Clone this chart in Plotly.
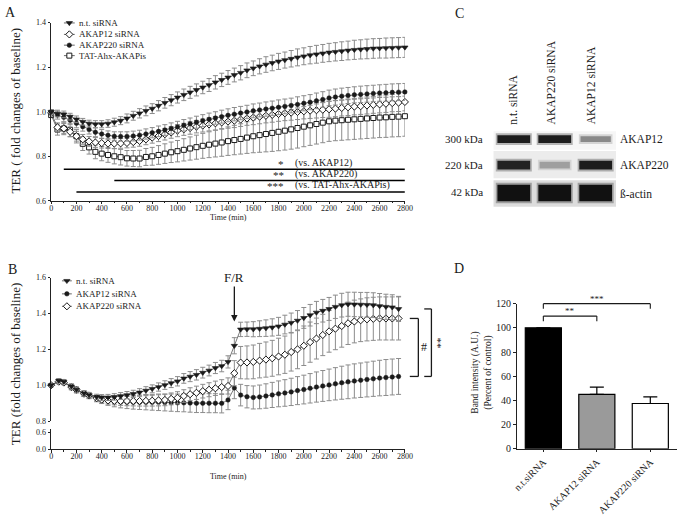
import plotly.graph_objects as go

W, H = 688, 527
def PX(x): return x / W
def PY(y): return 1 - y / H

SERIF = "Liberation Serif, Times New Roman, serif"
INK = "#1a1a1a"

# ---------------- DATA ----------------
# Panel A
time_a = list(range(0, 2801, 50))
nt_a = [1.000, 0.992, 0.988, 0.978, 0.966, 0.955, 0.947, 0.944, 0.944, 0.947,
        0.953, 0.960, 0.970, 0.982, 0.993, 1.004, 1.014, 1.027, 1.040, 1.052,
        1.064, 1.076, 1.087, 1.098, 1.109, 1.120, 1.132, 1.143, 1.154, 1.165,
        1.175, 1.186, 1.195, 1.204, 1.212, 1.219, 1.226, 1.232, 1.238, 1.244,
        1.249, 1.254, 1.258, 1.262, 1.266, 1.269, 1.272, 1.275, 1.278, 1.280,
        1.282, 1.284, 1.285, 1.286, 1.287, 1.288, 1.289]
nt_a_err = [0.010, 0.015, 0.015, 0.015, 0.015, 0.015, 0.015, 0.016, 0.016, 0.017,
            0.018, 0.018, 0.020, 0.020, 0.021, 0.022, 0.022, 0.023, 0.024, 0.025,
            0.025, 0.026, 0.027, 0.027, 0.028, 0.029, 0.030, 0.030, 0.031, 0.031,
            0.032, 0.033, 0.033, 0.034, 0.035, 0.035, 0.036, 0.036, 0.037, 0.038,
            0.038, 0.039, 0.040, 0.040, 0.041, 0.041, 0.042, 0.042, 0.043, 0.043,
            0.044, 0.044, 0.044, 0.045, 0.045, 0.045, 0.045]
akap12_a = [0.995, 0.930, 0.925, 0.910, 0.890, 0.876, 0.867, 0.862, 0.859, 0.857,
            0.857, 0.858, 0.860, 0.864, 0.869, 0.876, 0.884, 0.891, 0.899, 0.907,
            0.915, 0.921, 0.927, 0.933, 0.938, 0.943, 0.948, 0.952, 0.956, 0.960,
            0.965, 0.970, 0.974, 0.978, 0.982, 0.986, 0.990, 0.993, 0.996, 0.999,
            1.002, 1.005, 1.007, 1.009, 1.011, 1.014, 1.017, 1.020, 1.023, 1.025,
            1.028, 1.031, 1.033, 1.036, 1.039, 1.041, 1.044]
akap12_a_err = [0.010, 0.020, 0.022, 0.022, 0.022, 0.022, 0.022, 0.022, 0.022, 0.022,
                0.022, 0.022, 0.022, 0.023, 0.024, 0.024, 0.025, 0.025, 0.026, 0.026,
                0.027, 0.027, 0.028, 0.028, 0.029, 0.029, 0.030, 0.030, 0.030, 0.031,
                0.031, 0.031, 0.032, 0.032, 0.032, 0.033, 0.033, 0.033, 0.034, 0.034,
                0.034, 0.035, 0.035, 0.035, 0.036, 0.036, 0.036, 0.037, 0.037, 0.037,
                0.038, 0.038, 0.038, 0.039, 0.039, 0.040, 0.040]
akap220_a = [1.000, 0.985, 0.975, 0.962, 0.948, 0.933, 0.920, 0.908, 0.900, 0.894,
             0.890, 0.889, 0.889, 0.891, 0.895, 0.900, 0.906, 0.912, 0.918, 0.925,
             0.932, 0.939, 0.946, 0.953, 0.960, 0.966, 0.972, 0.978, 0.984, 0.989,
             0.994, 0.999, 1.004, 1.008, 1.012, 1.016, 1.020, 1.024, 1.028, 1.033,
             1.038, 1.043, 1.049, 1.055, 1.062, 1.066, 1.070, 1.073, 1.076, 1.078,
             1.080, 1.082, 1.084, 1.085, 1.087, 1.088, 1.089]
akap220_a_err = [0.010, 0.018, 0.020, 0.020, 0.020, 0.020, 0.020, 0.020, 0.020, 0.020,
                 0.020, 0.021, 0.021, 0.022, 0.022, 0.023, 0.023, 0.024, 0.024, 0.025,
                 0.025, 0.026, 0.026, 0.027, 0.027, 0.028, 0.028, 0.029, 0.029, 0.030,
                 0.030, 0.030, 0.031, 0.031, 0.032, 0.032, 0.033, 0.033, 0.033, 0.034,
                 0.034, 0.034, 0.035, 0.035, 0.035, 0.036, 0.036, 0.036, 0.036, 0.037,
                 0.037, 0.037, 0.037, 0.038, 0.038, 0.038, 0.038]
tat_a = [0.985, 0.920, 0.925, 0.918, 0.890, 0.856, 0.840, 0.820, 0.812, 0.806,
         0.800, 0.796, 0.791, 0.790, 0.790, 0.797, 0.800, 0.806, 0.812, 0.818,
         0.823, 0.829, 0.835, 0.841, 0.847, 0.852, 0.857, 0.862, 0.868, 0.873,
         0.878, 0.884, 0.890, 0.895, 0.900, 0.905, 0.910, 0.915, 0.921, 0.927,
         0.933, 0.939, 0.945, 0.951, 0.957, 0.960, 0.962, 0.964, 0.966, 0.968,
         0.970, 0.972, 0.974, 0.975, 0.977, 0.978, 0.980]
tat_a_err = [0.010, 0.025, 0.028, 0.030, 0.030, 0.030, 0.030, 0.031, 0.032, 0.033,
             0.034, 0.035, 0.035, 0.036, 0.037, 0.038, 0.040, 0.042, 0.044, 0.046,
             0.048, 0.050, 0.052, 0.054, 0.056, 0.058, 0.060, 0.062, 0.064, 0.066,
             0.068, 0.071, 0.074, 0.077, 0.080, 0.083, 0.085, 0.087, 0.089, 0.090,
             0.090, 0.090, 0.090, 0.090, 0.090, 0.090, 0.090, 0.090, 0.090, 0.090,
             0.090, 0.090, 0.090, 0.090, 0.090, 0.090, 0.090]
legend_a = ["n.t. siRNA", "AKAP12 siRNA", "AKAP220 siRNA", "TAT-Ahx-AKAPis"]
sig_starts = [100, 500, 200]
sig_levels = [0.742, 0.691, 0.640]
sig_stars = ["*", "**", "***"]
sig_labels = ["(vs. AKAP12)", "(vs. AKAP220)", "(vs. TAT-Ahx-AKAPis)"]

# Panel B
time_b = [0, 60, 100, 160, 200, 260, 300, 360, 400] + list(range(450, 2751, 50))
nt_b = [1.000, 1.025, 1.020, 0.993, 0.975, 0.955, 0.945, 0.935, 0.932, 0.932,
        0.935, 0.940, 0.945, 0.952, 0.960, 0.970, 0.980, 0.990, 1.001, 1.012,
        1.022, 1.038, 1.048, 1.058, 1.070, 1.082, 1.096, 1.107, 1.130, 1.220,
        1.311, 1.312, 1.312, 1.315, 1.318, 1.322, 1.328, 1.338, 1.348, 1.360,
        1.375, 1.390, 1.405, 1.415, 1.425, 1.437, 1.446, 1.451, 1.450, 1.449,
        1.448, 1.446, 1.441, 1.437, 1.434, 1.425]
nt_b_err = [0.008, 0.012, 0.012, 0.015, 0.015, 0.015, 0.015, 0.015, 0.016, 0.017,
            0.018, 0.019, 0.020, 0.020, 0.021, 0.022, 0.022, 0.023, 0.024, 0.025,
            0.026, 0.027, 0.028, 0.029, 0.030, 0.030, 0.031, 0.032, 0.034, 0.045,
            0.040, 0.040, 0.042, 0.044, 0.046, 0.048, 0.050, 0.052, 0.054, 0.056,
            0.058, 0.060, 0.062, 0.063, 0.064, 0.065, 0.066, 0.067, 0.068, 0.068,
            0.069, 0.069, 0.070, 0.070, 0.070, 0.070]
akap12_b = [1.000, 1.022, 1.016, 0.990, 0.972, 0.952, 0.940, 0.925, 0.918, 0.912,
            0.908, 0.906, 0.905, 0.905, 0.905, 0.905, 0.905, 0.905, 0.904, 0.903,
            0.902, 0.902, 0.901, 0.900, 0.900, 0.900, 0.900, 0.899, 0.918, 0.985,
            0.945, 0.936, 0.932, 0.935, 0.940, 0.946, 0.952, 0.957, 0.963, 0.970,
            0.976, 0.983, 0.990, 0.996, 1.002, 1.008, 1.014, 1.019, 1.024, 1.028,
            1.032, 1.036, 1.040, 1.043, 1.046, 1.049]
akap12_b_err = [0.008, 0.012, 0.012, 0.015, 0.015, 0.015, 0.015, 0.017, 0.020, 0.024,
                0.028, 0.032, 0.035, 0.038, 0.040, 0.042, 0.044, 0.046, 0.047, 0.048,
                0.049, 0.050, 0.051, 0.052, 0.052, 0.053, 0.053, 0.053, 0.054, 0.060,
                0.060, 0.062, 0.064, 0.066, 0.068, 0.070, 0.072, 0.074, 0.076, 0.078,
                0.080, 0.082, 0.084, 0.086, 0.088, 0.090, 0.092, 0.094, 0.095, 0.096,
                0.097, 0.098, 0.099, 0.100, 0.100, 0.100]
akap220_b = [1.000, 1.020, 1.015, 0.990, 0.975, 0.953, 0.943, 0.928, 0.920, 0.915,
             0.913, 0.912, 0.912, 0.912, 0.912, 0.913, 0.914, 0.916, 0.918, 0.924,
             0.930, 0.940, 0.950, 0.958, 0.967, 0.975, 0.983, 0.990, 0.996, 1.067,
             1.126, 1.127, 1.130, 1.137, 1.143, 1.150, 1.160, 1.170, 1.185, 1.200,
             1.220, 1.240, 1.260, 1.280, 1.300, 1.315, 1.330, 1.345, 1.355, 1.362,
             1.367, 1.370, 1.372, 1.372, 1.372, 1.372]
akap220_b_err = [0.008, 0.012, 0.012, 0.015, 0.015, 0.015, 0.015, 0.016, 0.018, 0.020,
                 0.022, 0.024, 0.026, 0.027, 0.028, 0.029, 0.030, 0.031, 0.032, 0.033,
                 0.034, 0.035, 0.036, 0.037, 0.038, 0.039, 0.040, 0.041, 0.045, 0.070,
                 0.090, 0.092, 0.094, 0.096, 0.098, 0.100, 0.102, 0.104, 0.106, 0.108,
                 0.110, 0.112, 0.114, 0.115, 0.116, 0.117, 0.118, 0.118, 0.119, 0.119,
                 0.120, 0.120, 0.120, 0.120, 0.120, 0.120]
legend_b = ["n.t. siRNA", "AKAP12 siRNA", "AKAP220 siRNA"]
fr_time = 1450

# Panel C (western blot)
blot_lanes = ["n.t. siRNA", "AKAP220 siRNA", "AKAP12 siRNA"]
blot_proteins = ["AKAP12", "AKAP220", "ß-actin"]
blot_kda = ["300 kDa", "220 kDa", "42 kDa"]
band_akap12 = [0.95, 0.95, 0.45]
band_akap220 = [0.92, 0.35, 0.95]
band_actin = [1.00, 1.00, 1.00]

# Panel D
d_groups = ["n.t.siRNA", "AKAP12 siRNA", "AKAP220 siRNA"]
d_values = [100, 45, 37.5]
d_err = [0, 6, 5.5]

# ---------------- LAYOUT GEOMETRY ----------------
XA = [PX(48), PX(408)]
YA = [PY(199), PY(17)]
YB_UP = [PY(424), PY(277.3)]
YB_LO = [PY(452.7), PY(431.7)]
XC = [PX(498), PX(623)]
YC = [PY(206), PY(126)]
XD = [PX(521.7), PX(685)]
YD = [PY(452.3), PY(304)]

def to_dom(v, dom, rng):
    return dom[0] + (v - rng[0]) / (rng[1] - rng[0]) * (dom[1] - dom[0])

fig = go.Figure()

ERR_COLOR = "#8c8c8c"
LINE_COLOR = "#555555"

styles_a = [
    dict(symbol="triangle-down", size=5.5, color=INK, line=dict(color=INK, width=0.6)),
    dict(symbol="diamond", size=5.5, color="white", line=dict(color=INK, width=1)),
    dict(symbol="circle", size=4.5, color=INK, line=dict(color=INK, width=0.5)),
    dict(symbol="square", size=5, color="white", line=dict(color=INK, width=1)),
]
styles_b = [
    dict(symbol="triangle-down", size=5.5, color=INK, line=dict(color=INK, width=0.6)),
    dict(symbol="circle", size=4.5, color=INK, line=dict(color=INK, width=0.5)),
    dict(symbol="diamond", size=5.5, color="white", line=dict(color=INK, width=1)),
]

series_a = [(nt_a, nt_a_err), (akap12_a, akap12_a_err), (akap220_a, akap220_a_err), (tat_a, tat_a_err)]
draw_order_a = [3, 1, 2, 0]
for i in draw_order_a:
    y, e = series_a[i]
    fig.add_trace(go.Scatter(
        x=time_a, y=y, mode="lines+markers", xaxis="x", yaxis="y",
        line=dict(color=LINE_COLOR, width=0.8), marker=styles_a[i],
        error_y=dict(type="data", array=e, color=ERR_COLOR, thickness=1, width=2.5),
        cliponaxis=False, showlegend=False, hoverinfo="skip"))

series_b = [(nt_b, nt_b_err), (akap12_b, akap12_b_err), (akap220_b, akap220_b_err)]
for i in [1, 2, 0]:
    y, e = series_b[i]
    fig.add_trace(go.Scatter(
        x=time_b, y=y, mode="lines+markers", xaxis="x2", yaxis="y2",
        line=dict(color=LINE_COLOR, width=0.8), marker=styles_b[i],
        error_y=dict(type="data", array=e, color=ERR_COLOR, thickness=1, width=2.5),
        cliponaxis=False, showlegend=False, hoverinfo="skip"))
# empty trace so the broken lower y-axis segment of panel B gets drawn
fig.add_trace(go.Scatter(x=[None], y=[None], xaxis="x2", yaxis="y3", mode="markers",
                         showlegend=False, hoverinfo="skip"))

# ---- Panel C blot: row backgrounds, halos, bands ----
row_center = [10, 36.5, 65]
row_height = [8, 9, 17]
row_bg = [(2, 20.7, "#f6f6f6"), (22, 50, "#ececec"), (52, 79, "#dcdcdc")]
for b0, b1, col in row_bg:
    fig.add_trace(go.Bar(x=[1], y=[b1 - b0], base=[b0], width=[3.0], xaxis="x4", yaxis="y4",
                         marker=dict(color=col, line=dict(width=0)), showlegend=False, hoverinfo="skip"))

def gray(v):
    lvl = int(round(235 - v * 218))
    return f"rgb({lvl},{lvl},{lvl})"

band_sets = [band_akap12, band_akap220, band_actin]
lanes_idx = [0, 1, 2]
for r, inten in enumerate(band_sets):
    hts = [row_height[r] * (0.75 if v < 0.6 else 1.0) for v in inten]
    wid = [0.80 if v >= 0.6 else 0.74 for v in inten]
    fig.add_trace(go.Bar(
        x=lanes_idx, y=[h + 4 for h in hts], base=[row_center[r] - (h + 4) / 2 for h in hts],
        width=[w + 0.08 for w in wid], xaxis="x4", yaxis="y4",
        marker=dict(color=[gray(v) for v in inten], line=dict(width=0)),
        opacity=0.3, showlegend=False, hoverinfo="skip"))
    fig.add_trace(go.Bar(
        x=lanes_idx, y=hts, base=[row_center[r] - h / 2 for h in hts], width=wid,
        xaxis="x4", yaxis="y4",
        marker=dict(color=[gray(v) for v in inten], line=dict(width=0)),
        showlegend=False, hoverinfo="skip"))

# ---- Panel D bars ----
fig.add_trace(go.Bar(
    x=[0, 1, 2], y=d_values, width=0.675, xaxis="x5", yaxis="y5",
    marker=dict(color=["#000000", "#9a9a9a", "#ffffff"], line=dict(color="#000000", width=1.2)),
    error_y=dict(type="data", symmetric=False, array=d_err, arrayminus=[0, 0, 0],
                 color="#000000", thickness=1.2, width=7),
    showlegend=False, hoverinfo="skip"))

# ---- Legend symbols (overlay pixel axis) ----
leg_a_y = [17.3, 29.0, 40.0, 50.7]
leg_b_y = [280.7, 294.0, 306.7]
annotations = []
for i, name in enumerate(legend_a):
    yy = leg_a_y[i]
    fig.add_trace(go.Scatter(x=[61, 72], y=[yy, yy], mode="lines", xaxis="x6", yaxis="y6",
                             line=dict(color=LINE_COLOR, width=0.9), showlegend=False, hoverinfo="skip"))
    fig.add_trace(go.Scatter(x=[66.5], y=[yy], mode="markers", xaxis="x6", yaxis="y6",
                             marker=styles_a[i], showlegend=False, hoverinfo="skip"))
    annotations.append(dict(x=PX(74), y=PY(yy), xref="paper", yref="paper", text=name,
                            showarrow=False, xanchor="left", yanchor="middle",
                            font=dict(family=SERIF, size=9, color=INK)))
for i, name in enumerate(legend_b):
    yy = leg_b_y[i]
    fig.add_trace(go.Scatter(x=[59, 69], y=[yy, yy], mode="lines", xaxis="x6", yaxis="y6",
                             line=dict(color=LINE_COLOR, width=0.9), showlegend=False, hoverinfo="skip"))
    fig.add_trace(go.Scatter(x=[64], y=[yy], mode="markers", xaxis="x6", yaxis="y6",
                             marker=styles_b[i], showlegend=False, hoverinfo="skip"))
    annotations.append(dict(x=PX(71), y=PY(yy), xref="paper", yref="paper", text=name,
                            showarrow=False, xanchor="left", yanchor="middle",
                            font=dict(family=SERIF, size=9, color=INK)))

# ---------------- SHAPES ----------------
shapes = []
for s, lv in zip(sig_starts, sig_levels):
    shapes.append(dict(type="line", xref="x", yref="y", x0=s, x1=2800, y0=lv, y1=lv,
                       line=dict(color="#000000", width=1.5)))
for st, lv, lab in zip(sig_stars, sig_levels, sig_labels):
    annotations.append(dict(x=1862, y=lv, xref="x", yref="y", text=st, showarrow=False,
                            xanchor="right", yanchor="middle", yshift=5.5,
                            font=dict(family=SERIF, size=11, color=INK)))
    annotations.append(dict(x=1912, y=lv, xref="x", yref="y", text=lab, showarrow=False,
                            xanchor="left", yanchor="middle", yshift=6.5,
                            font=dict(family=SERIF, size=10, color=INK)))

RB = [0.8, 1.6]
def yb(v): return to_dom(v, YB_UP, RB)
end_nt, end_12, end_220 = nt_b[-1], akap12_b[-1], akap220_b[-1]
for (xv, xt, ytop, ybot) in [(421.7, 413.0, end_220, end_12), (435.0, 427.7, end_nt, end_12)]:
    shapes.append(dict(type="line", xref="paper", yref="paper", x0=PX(xv), x1=PX(xv),
                       y0=yb(ybot), y1=yb(ytop), line=dict(color=INK, width=1.3)))
    shapes.append(dict(type="line", xref="paper", yref="paper", x0=PX(xt), x1=PX(xv),
                       y0=yb(ytop), y1=yb(ytop), line=dict(color=INK, width=1.3)))
    shapes.append(dict(type="line", xref="paper", yref="paper", x0=PX(xt), x1=PX(xv),
                       y0=yb(ybot), y1=yb(ybot), line=dict(color=INK, width=1.3)))
annotations.append(dict(x=PX(427.5), y=(yb(end_220) + yb(end_12)) / 2, xref="paper", yref="paper",
                        text="#", showarrow=False, xanchor="center", yanchor="middle",
                        font=dict(family=SERIF, size=12, color=INK)))
annotations.append(dict(x=PX(442), y=(yb(end_nt) + yb(end_12)) / 2, xref="paper", yref="paper",
                        text="**", showarrow=False, xanchor="center", yanchor="middle", textangle=90,
                        font=dict(family=SERIF, size=11, color=INK)))

# F/R arrow
annotations.append(dict(x=fr_time, y=1.355, xref="x2", yref="y2", text="F/R", showarrow=True,
                        ax=0, ay=-44, arrowhead=2, arrowsize=1, arrowwidth=1.3, arrowcolor=INK,
                        font=dict(family=SERIF, size=13, color=INK)))

# Panel D brackets
RD = [0, 120]
RDX = [-0.5, 2.5]
def xd(v): return to_dom(v, XD, RDX)
def yd(v): return to_dom(v, YD, RD)
for (a, b, lv, t) in [(0, 1, 109.7, "**"), (0, 2, 120.0, "***")]:
    shapes.append(dict(type="line", xref="paper", yref="paper", x0=xd(a), x1=xd(b), y0=yd(lv), y1=yd(lv),
                       line=dict(color=INK, width=1.1)))
    for xx in (a, b):
        shapes.append(dict(type="line", xref="paper", yref="paper", x0=xd(xx), x1=xd(xx),
                           y0=yd(lv - 4.2), y1=yd(lv), line=dict(color=INK, width=1.1)))
    annotations.append(dict(x=(xd(a) + xd(b)) / 2, y=yd(lv), xref="paper", yref="paper", text=t,
                            showarrow=False, xanchor="center", yanchor="bottom", yshift=-2,
                            font=dict(family=SERIF, size=9, color=INK)))

# ---------------- TEXT ----------------
def txt(x, y, t, size, anchor="center", angle=0, yanchor="middle"):
    annotations.append(dict(x=PX(x), y=PY(y), xref="paper", yref="paper", text=t, showarrow=False,
                            xanchor=anchor, yanchor=yanchor, textangle=angle,
                            font=dict(family=SERIF, size=size, color=INK)))

txt(7, 7, "A", 14)
txt(9, 269, "B", 14)
txt(464, 8, "C", 14)
txt(463, 268, "D", 14)
txt(12, 107, "TER ( fold changes of baseline)", 13, angle=-90)
txt(12, 366, "TER (fold changes of baseline)", 13, angle=-90)
txt(228, 216, "Time (min)", 8)
txt(228, 481, "Time (min)", 8)
txt(486, 375, "Band intensity (A.U.)<br>(Percent of control)", 9.5, angle=-90)

lane_x = [518.3, 556.7, 598.3]
for lx, name in zip(lane_x, blot_lanes):
    txt(lx, 123, name, 11.5, angle=-90, yanchor="bottom")
row_y = [136, 162, 190]
for ry, kd in zip(row_y, blot_kda):
    txt(490, ry, kd, 11, anchor="right")
row_y2 = [136, 162, 192]
for ry, pn in zip(row_y2, blot_proteins):
    txt(625, ry, pn, 11.5, anchor="left")

# ---------------- AXES ----------------
def ax(**kw):
    base = dict(showline=True, linecolor="#222222", linewidth=1, ticks="outside", ticklen=2.5,
                tickwidth=1, tickcolor="#222222", showgrid=False, zeroline=False,
                tickfont=dict(family=SERIF, size=8, color="#222222"))
    base.update(kw)
    return base

minor = dict(dtick=100, ticks="outside", ticklen=1.5, tickcolor="#222222", showgrid=False)
xt = list(range(0, 2801, 200))

fig.update_layout(
    width=W, height=H, margin=dict(l=0, r=0, t=0, b=0),
    paper_bgcolor="white", plot_bgcolor="rgba(0,0,0,0)",
    barmode="overlay", showlegend=False,
    xaxis=ax(domain=XA, range=[0, 2800], anchor="y", tickvals=xt, minor=minor),
    yaxis=ax(domain=YA, range=[0.6, 1.4], anchor="x", tickvals=[0.6, 0.8, 1.0, 1.2, 1.4], tickformat=".1f"),
    xaxis2=ax(domain=XA, range=[0, 2800], anchor="y3", tickvals=xt, minor=minor),
    yaxis2=ax(domain=YB_UP, range=RB, anchor="x2", tickvals=[0.8, 1.0, 1.2, 1.4, 1.6], tickformat=".1f"),
    yaxis3=ax(domain=YB_LO, range=[0, 0.74], anchor="x2", tickvals=[0.0, 0.6], tickformat=".1f"),
    xaxis4=dict(domain=XC, range=[-0.5, 2.5], anchor="y4", visible=False),
    yaxis4=dict(domain=YC, range=[80, 0], anchor="x4", visible=False),
    xaxis5=ax(domain=XD, range=RDX, anchor="y5", tickvals=[0, 1, 2], ticktext=d_groups, tickangle=-45,
              tickfont=dict(family=SERIF, size=10, color="#222222")),
    yaxis5=ax(domain=YD, range=RD, anchor="x5", tickvals=[0, 20, 40, 60, 80, 100, 120],
              tickfont=dict(family=SERIF, size=10, color="#222222")),
    xaxis6=dict(domain=[0, 1], range=[0, W], anchor="y6", visible=False, fixedrange=True),
    yaxis6=dict(domain=[0, 1], range=[H, 0], anchor="x6", visible=False, fixedrange=True),
    shapes=shapes, annotations=annotations,
)

# pull the time-axis tick labels a little closer to the axis line, as in the reference
try:
    fig.update_layout(xaxis_ticklabelstandoff=-3, xaxis2_ticklabelstandoff=-3)
except Exception:
    pass

fig.write_html("out.html", config={"displayModeBar": False},
               post_script="document.body.style.margin='0px';")
